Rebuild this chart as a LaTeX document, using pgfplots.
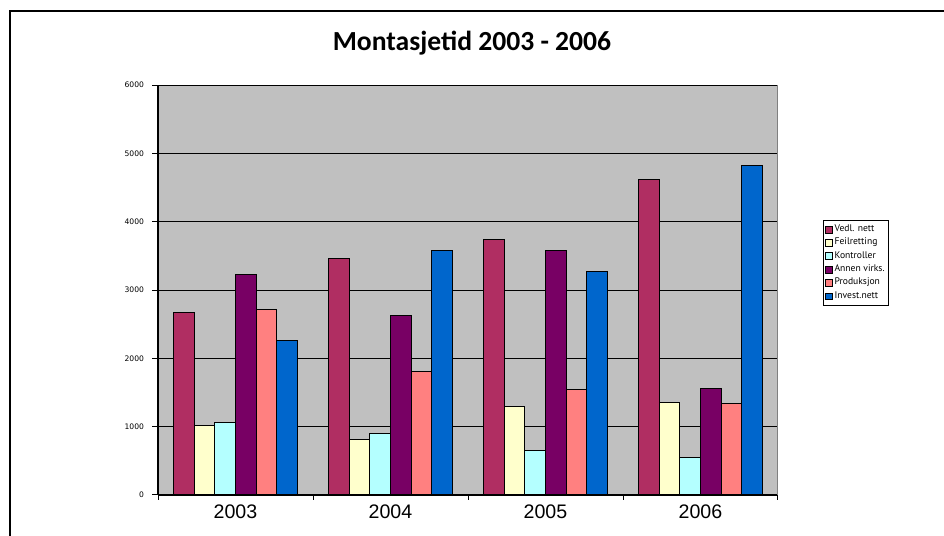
\documentclass[border=0pt]{standalone}
\usepackage{fontspec}
\setmainfont{Liberation Sans}
\newfontfamily\titlefont{Carlito}
\newfontfamily\tickfont{DejaVu Sans}
\newfontfamily\legfont{PT Sans}
\usepackage{pgfplots}
\pgfplotsset{compat=1.18}

\definecolor{vedl}{RGB}{176,46,98}
\definecolor{feil}{RGB}{255,255,204}
\definecolor{kontr}{RGB}{180,255,255}
\definecolor{annen}{RGB}{120,0,100}
\definecolor{prod}{RGB}{255,128,128}
\definecolor{invest}{RGB}{0,102,204}
\definecolor{plotbg}{RGB}{192,192,192}

\begin{document}
\begin{tikzpicture}
\path[use as bounding box] (0,0) rectangle (472pt,268pt);
% frame of the chart area (only top and left edges are visible)
\draw[line width=0.8pt] (5pt,0) -- (5pt,262.5pt) -- (472pt,262.5pt);
\node[font=\titlefont\bfseries\fontsize{13.8}{16}\selectfont] at (236pt,246.5pt) {Montasjetid 2003 - 2006};

\begin{axis}[
    at={(79pt,20.5pt)}, anchor=south west,
    scale only axis,
    width=310pt, height=205pt,
    ybar=0pt,
    bar width=10.35pt,
    xmin=0.5, xmax=4.5,
    ymin=0, ymax=6000,
    ytick={0,1000,...,6000},
    xtick={1,2,3,4},
    xticklabels={2003,2004,2005,2006},
    minor xtick={0.5,1.5,2.5,3.5,4.5},
    major x tick style={draw=none},
    tick align=outside,
    major tick length=3pt,
    minor tick length=2.5pt,
    tick style={black, line width=0.5pt},
    ymajorgrids,
    major grid style={black, line width=0.5pt},
    axis x line*=bottom,
    axis y line*=left,
    axis line style={black, line width=0.6pt, -},
    axis background/.style={fill=plotbg},
    /pgf/number format/assume math mode=true,
    scaled y ticks=false,
    yticklabel style={font=\tickfont\fontsize{3.8}{4}\selectfont, /pgf/number format/set thousands separator={}, xshift=-0.5pt},
    xticklabel style={font=\fontsize{9.8}{11}\selectfont, yshift=1.5pt},
    legend style={
      at={(1.0726,0.6707)}, anchor=north west,
      draw=black, line width=0.4pt,
      font=\legfont\fontsize{4.8}{5.5}\selectfont,
      inner xsep=1pt, inner ysep=1.2pt,
      row sep=0pt,
      nodes={inner sep=0.9pt},
      legend cell align=left,
    },
    legend image code/.code={%
      \draw[#1, draw=black, line width=0.3pt] (0pt,-1.7pt) rectangle (3.4pt,1.7pt);},
    every axis plot/.append style={draw=black, line width=0.5pt},
  ]
\draw[gray, line width=0.5pt] (axis cs:4.5,0) -- (axis cs:4.5,6000);
\addplot[fill=vedl] coordinates {(1,2678) (2,3468) (3,3742) (4,4620)};
\addplot[fill=feil] coordinates {(1,1010) (2,805) (3,1302) (4,1351)};
\addplot[fill=kontr] coordinates {(1,1060) (2,907) (3,658) (4,556)};
\addplot[fill=annen] coordinates {(1,3234) (2,2620) (3,3575) (4,1561)};
\addplot[fill=prod] coordinates {(1,2710) (2,1800) (3,1551) (4,1342)};
\addplot[fill=invest] coordinates {(1,2268) (2,3585) (3,3274) (4,4815)};
\legend{Vedl. nett,Feilretting,Kontroller,Annen virks.,Produksjon,Invest.nett}
\end{axis}
\end{tikzpicture}
\end{document}
